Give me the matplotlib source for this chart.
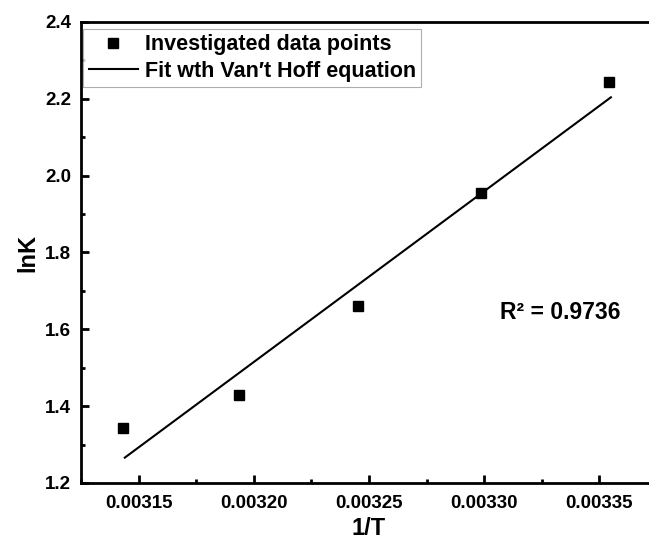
"""Van't Hoff plot: lnK against 1/T with linear fit."""
import matplotlib
matplotlib.use("Agg")
import matplotlib.pyplot as plt
from matplotlib.ticker import MultipleLocator, FormatStrFormatter

# data
inv_t = [0.0031432, 0.0031934, 0.0032452, 0.0032987, 0.0033540]
ln_k = [1.344, 1.429, 1.660, 1.955, 2.245]
fit_x = [0.003144, 0.003355]
fit_y = [1.266, 2.204]
r2_label = "R\u00b2 = 0.9736"

plt.rcParams["font.family"] = ["Liberation Sans", "DejaVu Sans"]
plt.rcParams["font.weight"] = "bold"

fig = plt.figure(figsize=(6.49, 5.42), dpi=100)
ax = fig.add_axes([81 / 649, 1 - 483 / 542, 576 / 649, 461 / 542])

ax.plot(inv_t, ln_k, "s", color="black", markersize=7, label="Investigated data points")
ax.plot(fit_x, fit_y, "-", color="black", linewidth=1.5, label="Fit wth Van\u2032t Hoff equation")

ax.set_xlim(0.003125, 0.003375)
ax.set_ylim(1.2, 2.4)
ax.xaxis.set_major_locator(MultipleLocator(0.00005))
ax.xaxis.set_minor_locator(MultipleLocator(0.000025))
ax.yaxis.set_major_locator(MultipleLocator(0.2))
ax.yaxis.set_minor_locator(MultipleLocator(0.1))
ax.xaxis.set_major_formatter(FormatStrFormatter("%.5f"))
ax.yaxis.set_major_formatter(FormatStrFormatter("%.1f"))

ax.tick_params(which="both", direction="in", width=2, labelsize=13.5)
ax.tick_params(which="major", length=6, pad=7)
ax.tick_params(which="minor", length=3)
ax.tick_params(axis="x", pad=9)
for side in ["left", "bottom", "top", "right"]:
    ax.spines[side].set_linewidth(2)

ax.set_xlabel("1/T", fontsize=17, fontweight="bold", labelpad=3)
ax.set_ylabel("lnK", fontsize=17, fontweight="bold", labelpad=4)

ax.text(0.003333, 1.643, r2_label, fontsize=16.5, fontweight="bold", ha="center", va="center")

leg = ax.legend(loc="upper left", bbox_to_anchor=(0.004, 0.985), fontsize=15.5, frameon=True,
                fancybox=False, edgecolor="#999999", handlelength=2.3, handletextpad=0.3,
                borderpad=0.25, labelspacing=0.25, borderaxespad=0.0)
leg.get_frame().set_linewidth(0.8)

fig.savefig("out.png", dpi=100)
